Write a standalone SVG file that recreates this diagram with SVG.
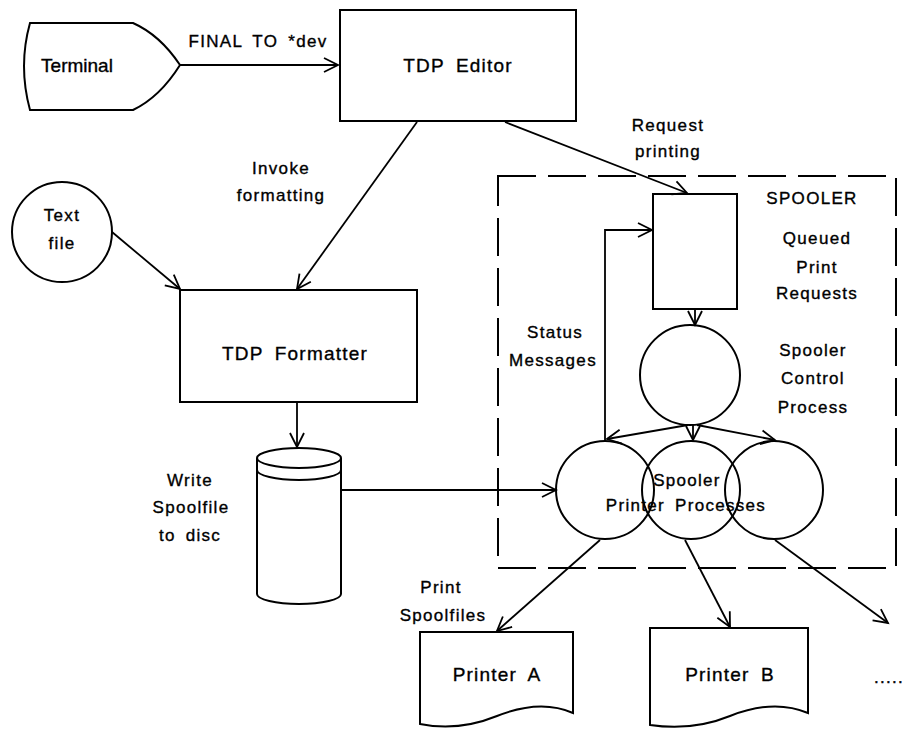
<svg xmlns="http://www.w3.org/2000/svg" width="911" height="732" viewBox="0 0 911 732">
<style>
.s{fill:#fff;stroke:#000;stroke-width:2}
.c line,.c polyline{stroke:#000;stroke-width:1.8;fill:none}
text{font-family:"Liberation Sans",Arial,sans-serif;fill:#000;stroke:#000;stroke-width:0.35;text-anchor:middle}
.n{font-size:19px;letter-spacing:1.2px;word-spacing:5px}
.l{font-size:17px;letter-spacing:1.3px;word-spacing:4px}
</style>
<defs>
<marker id="a" markerUnits="userSpaceOnUse" markerWidth="18" markerHeight="18" refX="15" refY="8" orient="auto" viewBox="0 0 18 16">
<path d="M1,1 L15,8 L1,15" fill="none" stroke="#000" stroke-width="1.8"/>
</marker>
</defs>
<rect x="498" y="176" width="398" height="392" fill="none" stroke="#000" stroke-width="2" stroke-dasharray="38 12"/>
<g id="terminal"><path class="s" d="M30,23 L133,23 Q160,35 180,65 Q160,97 133,110 L30,110 Q18,66 30,23 Z"/><text class="n" style="font-size:19px;letter-spacing:0" x="77" y="72">Terminal</text></g>
<g id="editor"><rect class="s" x="340" y="10" width="236" height="111"/><text class="n" x="458" y="72">TDP Editor</text></g>
<g id="textfile"><circle class="s" cx="62" cy="232" r="50"/><text class="l" x="62" y="221">Text</text><text class="l" x="62" y="249">file</text></g>
<g id="formatter"><rect class="s" x="180" y="290" width="237" height="112"/><text class="n" x="295" y="360">TDP Formatter</text></g>
<g id="disc"><path class="s" d="M257,458 A42,10 0 0 1 341,458 V594 A42,10 0 0 1 257,594 Z"/><path d="M257,458 A42,10 0 0 0 341,458 M257,470 A42,10 0 0 0 341,470" fill="none" stroke="#000" stroke-width="2"/></g>
<g id="queue"><rect class="s" x="653" y="194" width="84" height="115"/></g>
<g id="control"><circle class="s" cx="690" cy="375" r="50"/></g>
<g id="printers"><circle cx="605" cy="490" r="49" fill="none" stroke="#000" stroke-width="2"/><circle cx="691" cy="490" r="49" fill="none" stroke="#000" stroke-width="2"/><circle cx="774" cy="490" r="49" fill="none" stroke="#000" stroke-width="2"/><text class="l" x="687" y="486">Spooler</text><text class="l" x="686" y="511">Printer Processes</text></g>
<g id="printerA"><path class="s" d="M420,632 H573 V713 C548,702 522,706 497,716 C470,727 445,729 420,724 Z"/><text class="n" x="497" y="681">Printer A</text></g>
<g id="printerB"><path class="s" d="M650,628 H808 V713 C782,702 755,706 730,716 C703,727 677,729 650,725 Z"/><text class="n" x="730" y="681">Printer B</text></g>
<g class="c" id="connectors">
<line x1="180" y1="65" x2="338" y2="65" marker-end="url(#a)"/>
<line x1="417" y1="122" x2="297" y2="289" marker-end="url(#a)"/>
<line x1="505" y1="122" x2="687" y2="193" marker-end="url(#a)"/>
<line x1="112" y1="232" x2="180" y2="289" marker-end="url(#a)"/>
<line x1="297" y1="402" x2="297" y2="447" marker-end="url(#a)"/>
<line x1="341" y1="490" x2="556" y2="490" marker-end="url(#a)"/>
<line x1="695" y1="309" x2="695" y2="325" marker-end="url(#a)"/>
<line x1="688" y1="425" x2="607" y2="439" marker-end="url(#a)"/>
<line x1="693" y1="425" x2="693" y2="440" marker-end="url(#a)"/>
<line x1="697" y1="425" x2="775" y2="440" marker-end="url(#a)"/>
<polyline points="605,440 605,230 652,230" marker-end="url(#a)"/>
<line x1="600" y1="540" x2="497" y2="631" marker-end="url(#a)"/>
<line x1="685" y1="540" x2="730" y2="627" marker-end="url(#a)"/>
<line x1="775" y1="540" x2="888" y2="623" marker-end="url(#a)"/>
</g>
<g id="labels">
<text class="l" x="258" y="47">FINAL TO *dev</text>
<text class="l" x="281" y="174">Invoke</text>
<text class="l" x="281" y="201">formatting</text>
<text class="l" x="668" y="131">Request</text>
<text class="l" x="668" y="157">printing</text>
<text class="l" x="812" y="204">SPOOLER</text>
<text class="l" x="817" y="244">Queued</text>
<text class="l" x="817" y="273">Print</text>
<text class="l" x="817" y="299">Requests</text>
<text class="l" x="555" y="338">Status</text>
<text class="l" x="553" y="366">Messages</text>
<text class="l" x="813" y="356">Spooler</text>
<text class="l" x="813" y="384">Control</text>
<text class="l" x="813" y="413">Process</text>
<text class="l" x="190" y="486">Write</text>
<text class="l" x="191" y="513">Spoolfile</text>
<text class="l" x="190" y="541">to disc</text>
<text class="l" x="441" y="593">Print</text>
<text class="l" x="443" y="621">Spoolfiles</text>
<text class="l" x="889" y="683">.....</text>
</g>
</svg>
